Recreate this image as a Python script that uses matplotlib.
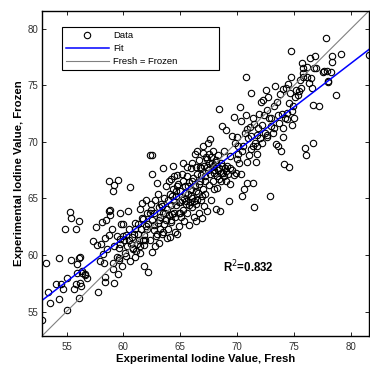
import numpy as np
import matplotlib
matplotlib.use("Agg")
import matplotlib.pyplot as plt

plt.rcParams['font.family'] = ['Liberation Sans', 'DejaVu Sans']

# iodine values (fresh sample vs. frozen sample)
fresh = [
    52.83, 53.18, 53.40, 53.56, 54.06, 54.30, 54.30, 54.50,
    54.65, 54.90, 55.00, 55.06, 55.30, 55.40, 55.40, 55.80,
    55.70, 55.80, 55.90, 55.96, 56.10, 56.06, 56.10, 56.20,
    56.20, 56.30, 56.35, 56.40, 56.60, 56.60, 56.80, 57.30,
    57.60, 57.70, 57.80, 57.90, 58.00, 58.10, 58.20, 58.30,
    58.35, 58.40, 58.40, 58.50, 58.60, 58.70, 58.75, 58.75,
    58.80, 58.85, 59.00, 59.10, 59.15, 59.05, 59.05, 59.20,
    59.15, 59.40, 59.50, 59.50, 59.60, 59.65, 59.65, 59.70,
    59.70, 59.80, 59.90, 59.95, 60.00, 60.10, 60.20, 60.25,
    60.30, 60.40, 60.45, 60.55, 60.60, 60.70, 60.75, 60.85,
    60.90, 61.00, 61.00, 61.10, 61.20, 61.25, 61.30, 61.40,
    61.45, 61.50, 61.55, 61.60, 61.65, 61.70, 61.80, 61.80,
    61.85, 61.95, 62.00, 62.10, 62.10, 62.15, 62.20, 62.30,
    62.35, 62.40, 62.50, 62.55, 62.50, 62.55, 62.65, 62.70,
    62.80, 62.80, 62.90, 62.95, 63.00, 63.05, 63.10, 63.15,
    63.20, 63.25, 63.30, 63.40, 63.45, 63.50, 63.55, 63.60,
    63.70, 63.75, 63.80, 63.85, 63.90, 64.00, 64.05, 64.10,
    64.15, 64.20, 64.20, 64.30, 64.35, 64.40, 64.45, 64.50,
    64.55, 64.60, 64.65, 64.70, 64.75, 64.80, 64.85, 64.90,
    64.95, 65.00, 65.05, 65.15, 65.25, 65.25, 65.30, 65.35,
    65.40, 65.50, 65.55, 65.60, 65.65, 65.75, 65.80, 65.85,
    65.90, 65.95, 66.00, 66.05, 66.10, 66.20, 66.25, 66.30,
    66.35, 66.40, 66.50, 66.55, 66.60, 66.65, 66.70, 66.80,
    66.85, 66.90, 66.95, 67.00, 67.10, 67.15, 67.20, 67.25,
    67.30, 67.35, 67.40, 67.50, 67.55, 67.60, 67.65, 67.70,
    67.75, 67.85, 67.90, 67.95, 68.00, 68.10, 68.15, 68.20,
    68.25, 68.30, 68.40, 68.40, 68.50, 68.55, 68.60, 68.70,
    68.75, 68.85, 68.90, 69.00, 69.05, 69.10, 69.20, 69.30,
    69.35, 69.40, 69.50, 69.55, 69.70, 69.80, 69.85, 69.95,
    70.00, 70.05, 70.15, 70.25, 70.30, 70.35, 70.40, 70.50,
    70.60, 70.65, 70.75, 70.80, 70.85, 70.90, 70.95, 71.05,
    71.10, 71.20, 71.25, 71.35, 71.40, 71.50, 71.55, 71.65,
    71.70, 71.75, 71.85, 71.90, 72.00, 72.05, 72.15, 72.20,
    72.30, 72.35, 72.40, 72.50, 72.60, 72.65, 72.70, 72.80,
    72.90, 72.95, 73.10, 73.20, 73.30, 73.40, 73.50, 73.55,
    73.60, 73.70, 73.80, 73.85, 73.90, 74.00, 74.05, 74.10,
    74.20, 74.25, 74.40, 74.45, 74.55, 74.65, 74.70, 74.75,
    74.80, 74.85, 74.90, 74.95, 75.10, 75.20, 75.30, 75.45,
    75.55, 75.60, 75.70, 75.75, 75.75, 75.80, 75.95, 76.05,
    76.10, 76.15, 76.30, 76.40, 76.45, 76.60, 76.65, 76.65,
    76.75, 76.85, 76.90, 77.20, 77.50, 77.60, 77.80, 77.85,
    78.00, 78.00, 78.20, 78.30, 78.35, 78.65, 79.10, 81.60,
    59.45, 59.70, 60.05, 60.50, 60.80, 61.05, 61.45, 61.70,
    61.90, 62.30, 62.45, 62.70, 62.95, 63.10, 63.35, 63.50,
    63.65, 63.95, 64.15, 64.30, 64.45, 64.60, 64.85, 65.00,
    65.15, 65.40, 65.50, 65.65, 65.75, 65.90, 66.05, 66.20,
    66.35, 66.50, 66.60, 66.80, 66.90, 67.05, 67.20, 67.30,
    67.40, 67.55, 67.70, 67.85, 68.00, 68.10, 68.30, 68.40,
    68.55, 68.70, 68.85, 69.05, 69.40, 69.70, 67.00, 66.50,
    66.70, 66.35, 66.05, 65.60, 65.25, 64.70, 64.45, 64.00,
    70.90, 71.25, 71.50, 70.05, 70.45, 71.40, 71.75, 72.65,
    72.95, 73.25, 74.00, 74.35, 74.55,
]

frozen = [
    54.30, 59.28, 56.70, 55.73, 57.40, 56.10, 59.70, 57.40,
    57.00, 62.30, 55.15, 58.00, 63.80, 63.30, 59.60, 62.30,
    57.00, 57.40, 58.40, 59.20, 63.00, 59.70, 56.20, 57.50,
    59.80, 57.30, 58.60, 58.40, 58.30, 58.20, 58.00, 61.20,
    62.50, 60.90, 56.70, 59.50, 61.00, 62.90, 60.10, 59.30,
    58.10, 57.60, 61.50, 63.10, 60.50, 61.80, 63.90, 66.50,
    63.50, 64.00, 62.30, 65.70, 66.20, 59.30, 58.80, 57.50,
    60.80, 61.70, 66.60, 58.30, 59.55, 59.75, 60.60, 61.40,
    63.70, 62.70, 59.00, 61.70, 62.70, 60.20, 61.80, 59.90,
    60.80, 63.90, 61.35, 59.45, 66.00, 60.95, 61.60, 60.50,
    61.90, 62.80, 59.80, 60.35, 60.95, 61.90, 62.70, 61.35,
    64.10, 60.80, 62.30, 63.30, 64.60, 61.35, 59.00, 60.90,
    61.75, 62.60, 64.90, 63.70, 62.30, 58.50, 62.75, 68.80,
    61.35, 64.55, 67.20, 68.85, 60.30, 63.10, 62.20, 63.70,
    64.90, 60.80, 61.70, 66.40, 65.35, 62.85, 64.20, 61.10,
    62.30, 63.40, 64.55, 61.90, 67.70, 63.70, 62.70, 65.05,
    63.10, 66.10, 61.50, 64.10, 62.30, 63.50, 65.35, 61.60,
    64.45, 66.70, 62.90, 63.60, 65.80, 67.85, 64.80, 62.00,
    63.35, 64.40, 65.20, 67.10, 61.85, 66.30, 63.70, 62.55,
    64.70, 65.65, 63.35, 67.20, 68.15, 64.00, 65.05, 63.05,
    66.10, 64.50, 66.95, 63.70, 65.35, 66.45, 62.65, 64.70,
    67.70, 65.80, 64.25, 65.05, 66.80, 63.40, 68.95, 66.10,
    64.50, 63.00, 67.20, 65.50, 63.70, 68.40, 66.50, 64.90,
    67.70, 63.30, 65.85, 69.60, 64.35, 66.95, 65.35, 68.65,
    67.80, 63.90, 69.90, 66.20, 68.95, 67.20, 70.25, 64.90,
    68.10, 66.50, 69.15, 67.55, 65.80, 64.05, 68.40, 66.95,
    65.95, 68.85, 72.90, 67.70, 63.90, 66.50, 68.15, 71.40,
    67.25, 69.15, 67.70, 66.55, 71.05, 67.90, 67.15, 64.80,
    68.75, 66.30, 70.50, 67.55, 72.20, 69.90, 67.25, 68.50,
    70.40, 68.95, 68.15, 73.10, 71.80, 67.20, 65.20, 69.60,
    65.85, 70.80, 72.40, 75.75, 68.20, 66.35, 70.30, 68.80,
    71.30, 69.35, 74.35, 72.10, 66.40, 64.25, 69.90, 68.20,
    70.65, 68.95, 71.20, 72.50, 70.35, 73.55, 71.50, 69.90,
    73.70, 72.40, 70.80, 74.60, 70.40, 72.85, 74.00, 72.10,
    65.25, 71.40, 70.80, 73.20, 74.90, 69.85, 73.55, 69.60,
    72.40, 71.70, 74.20, 69.20, 72.50, 70.40, 74.65, 68.05,
    72.10, 74.80, 72.00, 75.10, 67.80, 74.35, 75.75, 78.05,
    72.70, 71.50, 73.20, 72.10, 74.00, 74.60, 74.15, 74.45,
    75.50, 74.75, 76.95, 76.05, 76.50, 75.70, 69.45, 68.80,
    75.75, 76.65, 75.20, 77.40, 75.60, 74.75, 73.30, 69.90,
    76.50, 77.60, 76.50, 73.20, 76.20, 76.25, 79.15, 76.25,
    75.25, 75.35, 76.20, 77.05, 77.60, 74.10, 77.80, 77.70,
    59.80, 60.95, 61.35, 62.30, 60.65, 62.30, 60.20, 63.20,
    61.35, 63.70, 63.95, 62.65, 61.90, 63.10, 64.30, 62.00,
    63.70, 64.90, 63.10, 65.20, 63.70, 65.65, 64.65, 63.75,
    64.90, 65.50, 64.75, 66.10, 64.40, 65.20, 66.50, 64.75,
    65.65, 64.90, 66.25, 67.10, 65.20, 67.85, 66.50, 68.50,
    67.55, 68.10, 68.70, 67.85, 67.25, 68.25, 67.55, 66.70,
    67.25, 67.85, 66.95, 67.40, 67.65, 67.10, 69.00, 69.15,
    67.80, 67.80, 68.10, 67.80, 66.50, 66.10, 66.95, 66.50,
    71.10, 70.50, 71.60, 69.60, 69.20, 69.60, 69.60, 70.60,
    72.10, 71.25, 71.25, 72.55, 73.40,
]

ticks = [55, 60, 65, 70, 75, 80]
r2_label = 'R$^2$=0.832'

x = np.array(fresh)
y = np.array(frozen)
lo = min(x.min(), y.min())
hi = max(x.max(), y.max())

slope, icpt = np.polyfit(x, y, 1)
xl = np.array([lo, hi])

fig = plt.figure(figsize=(3.7, 3.65), dpi=100)
ax = fig.add_axes([0.113, 0.079, 0.885, 0.892])

ax.plot(x, y, 'o', mfc='none', mec='black', ms=4.6, mew=0.8, label='Data')
ax.plot(xl, slope * xl + icpt, color='#0000ff', lw=1.1, label='Fit')
ax.plot(xl, xl, color='#808080', lw=0.8, label='Fresh = Frozen')

ax.set_xlim(lo, hi)
ax.set_ylim(lo, hi)
ax.set_xticks(ticks)
ax.set_yticks(ticks)
ax.tick_params(direction='in', top=True, right=True, length=3, width=0.6,
               labelsize=7, labelcolor='#333333')
ax.tick_params(axis='x', pad=4.5)
ax.tick_params(axis='y', pad=2.5)
for s in ax.spines.values():
    s.set_linewidth(1.0)

ax.set_xlabel('Experimental Iodine Value, Fresh', fontsize=8.2, fontweight='bold', va='center')
ax.set_ylabel('Experimental Iodine Value, Frozen', fontsize=8.2, fontweight='bold', va='center')
ax.xaxis.set_label_coords(0.5, -0.071)
ax.yaxis.set_label_coords(-0.071, 0.5)

ax.text(68.75, 58.9, r2_label, fontsize=8.3, fontweight='bold', va='center', ha='left')

leg = ax.legend(loc='upper left', bbox_to_anchor=(0.061, 0.8, 0.48, 0.15), mode='expand',
                borderaxespad=0, fancybox=False, edgecolor='black', framealpha=1,
                fontsize=6.8, numpoints=1, handlelength=4.5, handletextpad=0.5,
                borderpad=0.45, labelspacing=0.42)
leg.get_frame().set_linewidth(0.8)

fig.savefig('out.png', dpi=100)
